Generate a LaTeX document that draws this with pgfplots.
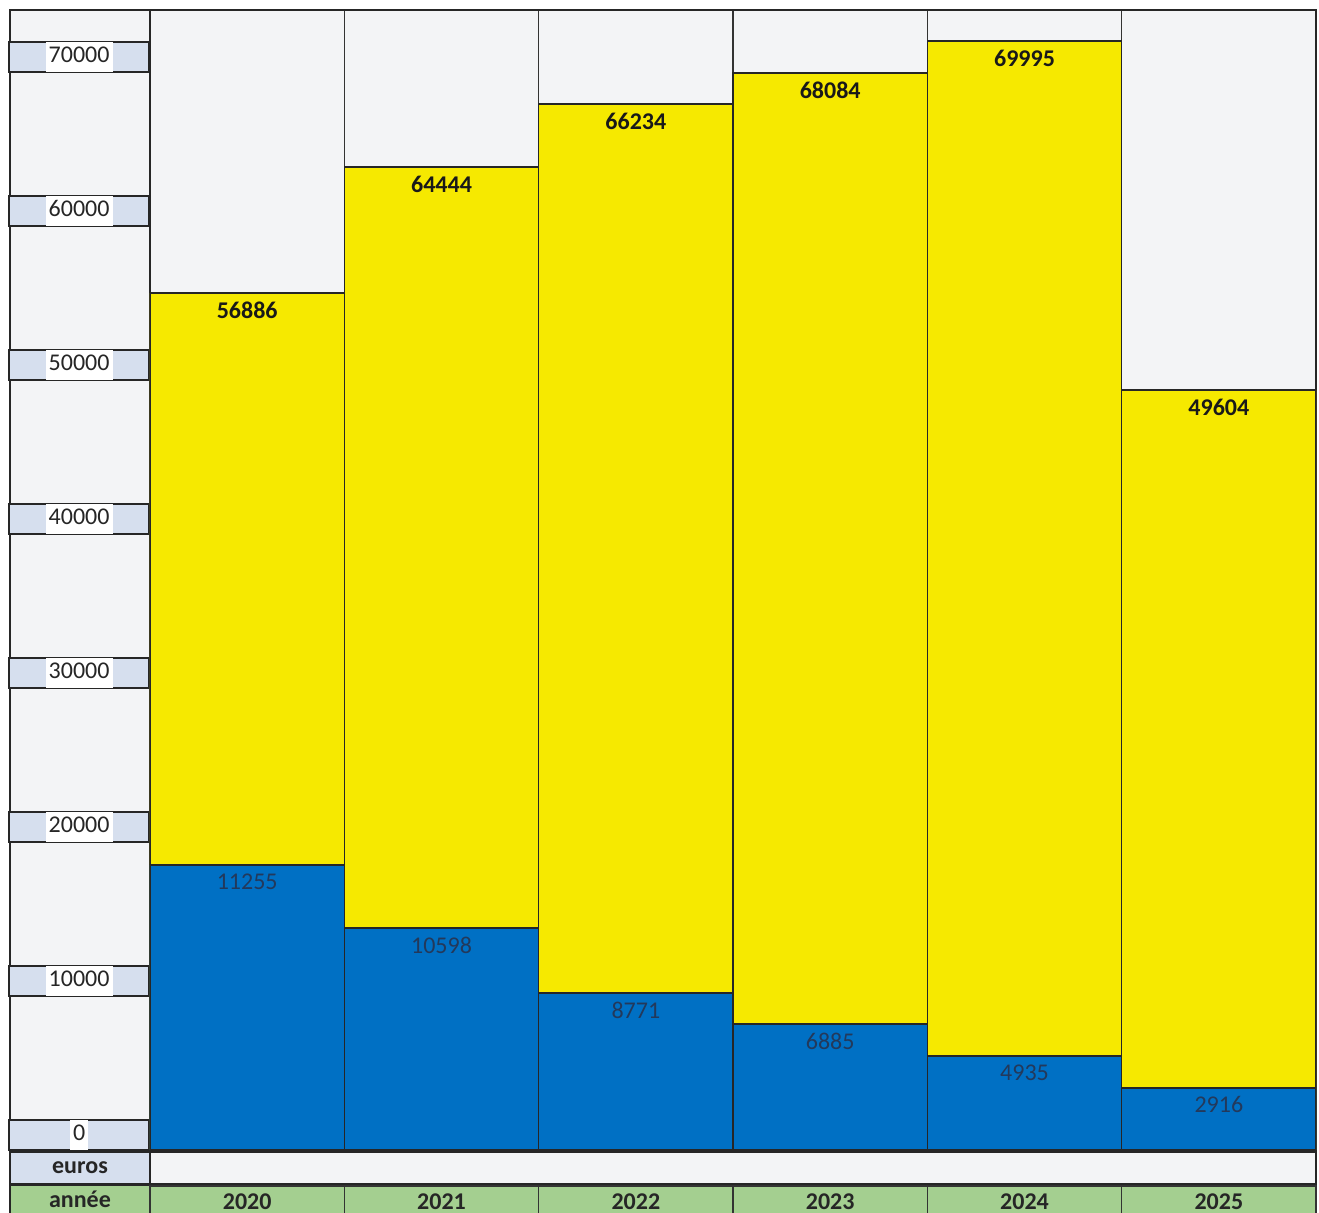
\documentclass[border=0pt]{standalone}
\usepackage{pgfplots}
\pgfplotsset{compat=1.18}
\usepackage{pgfplotstable}
\usepackage{fontspec}
\setmainfont{Carlito}
\definecolor{yel}{HTML}{F6E900}
\definecolor{blu}{HTML}{0070C4}
\definecolor{cellblue}{HTML}{D6DFEE}
\definecolor{cellgreen}{HTML}{A4CF90}
\definecolor{bgray}{HTML}{F3F4F6}
\definecolor{bluelab}{HTML}{23395B}
\setlength{\fboxsep}{1.5pt}

% x: column index (2020..2025), total / blue: bar heights,
% totlab / bluelab: values written on the bars
\pgfplotstableread{
x total blue totlab bluelab
0 55650 18510 56886 11255
1 63830 14420 64444 10598
2 67920 10190 66234 8771
3 69940 8180 68084 6885
4 72010 6100 69995 4935
5 49350 4030 49604 2916
}\data

\begin{document}
\begin{tikzpicture}
\begin{scope}[xshift=-75pt, yshift=575pt, x=0.5pt, y=-0.5pt]
  \fill[white] (0,0) rectangle (1319,1213);
  \draw[fill=bgray, draw=black!85, line width=0.9pt] (10,10) rectangle (150,1150);
  \draw[fill=cellblue, draw=black!85, line width=0.9pt] (10,1152) rectangle (150,1184);
  \draw[fill=bgray, draw=black!85, line width=0.9pt] (150,1152) rectangle (1316,1184);
  \draw[fill=cellgreen, draw=black!85, line width=0.9pt] (10,1185) rectangle (150,1225);
  \node[font=\fontsize{12}{14}\selectfont\bfseries, text=black!85] at (80,1168) {euros};
  \node[font=\fontsize{12}{14}\selectfont\bfseries, text=black!85] at (80,1199) {année};
\end{scope}
\begin{axis}[
  name=ax, at={(0,0)}, anchor=south west,
  scale only axis, width=583pt, height=570pt,
  xmin=-0.5, xmax=5.5, ymin=0, ymax=74026,
  axis background/.style={fill=bgray},
  axis line style={black!85, line width=0.9pt},
  major tick length=0pt, minor tick length=0pt,
  xtick={0,1,2,3,4,5},
  xticklabels={2020,2021,2022,2023,2024,2025},
  xticklabel style={anchor=north, yshift=-17.5pt, fill=cellgreen, draw=black!80,
    line width=0.8pt, minimum width=97.17pt, minimum height=16pt, inner sep=0pt,
    font=\fontsize{12}{14}\selectfont\bfseries, text=black!85},
  minor xtick={0.5,1.5,2.5,3.5,4.5},
  xminorgrids=true,
  minor grid style={black!80, line width=0.8pt},
  ytick={0,10000,20000,30000,40000,50000,60000,70000},
  scaled y ticks=false,
  yticklabel={\colorbox{white}{\rule[-3pt]{0pt}{12pt}\pgfmathprintnumber[fixed, precision=0, 1000 sep={}, assume math mode=true]{\tick}}},
  yticklabel style={anchor=east, yshift=7.5pt, fill=cellblue, draw=black!85,
    line width=0.9pt, minimum width=70pt, minimum height=15pt, inner sep=0pt,
    font=\fontsize{12}{14}\selectfont, text=black!85},
  ybar, bar width=1,
  point meta=explicit symbolic,
]
\addplot[fill=yel, draw=black!85, line width=0.8pt, bar shift=0pt,
  nodes near coords,
  every node near coord/.append style={anchor=center, yshift=-8.5pt,
    font=\fontsize{12}{14}\selectfont\bfseries, text=black!90}]
  table[x=x, y=total, meta=totlab]{\data};
\addplot[fill=blu, draw=black!85, line width=0.8pt, bar shift=0pt,
  nodes near coords,
  every node near coord/.append style={anchor=center, yshift=-8.5pt,
    font=\fontsize{12}{14}\selectfont, text=bluelab}]
  table[x=x, y=blue, meta=bluelab]{\data};
\end{axis}
\pgfresetboundingbox
\path[use as bounding box] (-75pt,-31.5pt) rectangle (584.5pt,575pt);
\end{tikzpicture}
\end{document}
